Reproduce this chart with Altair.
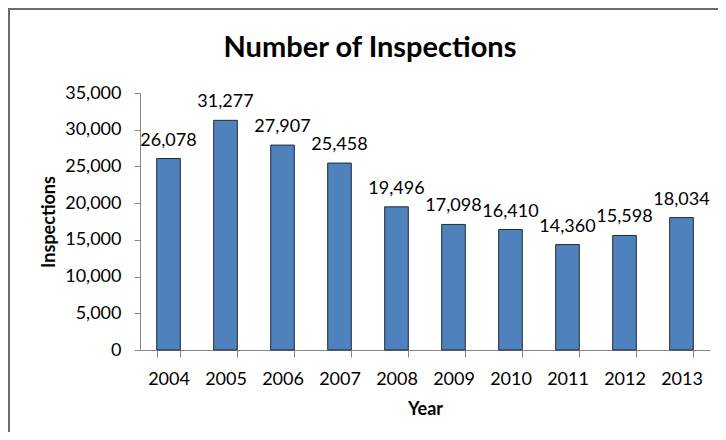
import altair as alt
import pandas as pd

years = ["2004", "2005", "2006", "2007", "2008", "2009", "2010", "2011", "2012", "2013"]
inspections = [26078, 31277, 27907, 25458, 19496, 17098, 16410, 14360, 15598, 18034]
y_ticks = [0, 5000, 10000, 15000, 20000, 25000, 30000, 35000]

df = pd.DataFrame({"Year": years, "Inspections": inspections})

FONT = "Lato"
AXIS_COLOR = "#868686"

base = alt.Chart(df)

x = alt.X(
    "Year:N",
    sort=years,
    title="Year",
    scale=alt.Scale(paddingInner=0.586, paddingOuter=0.293),
    axis=alt.Axis(
        labelAngle=0,
        tickBand="extent",
        tickSize=7,
        labelPadding=13,
        titlePadding=12,
        labelFontSize=18,
        titleFontSize=18,
        labelFont=FONT,
        titleFont=FONT,
        titleFontWeight="bold",
        labelColor="#000000",
        titleColor="#000000",
        domainColor=AXIS_COLOR,
        tickColor=AXIS_COLOR,
        grid=False,
    ),
)

y = alt.Y(
    "Inspections:Q",
    title="Inspections",
    scale=alt.Scale(domain=[0, 35000], nice=False),
    axis=alt.Axis(
        values=y_ticks,
        format=",.0f",
        tickSize=6,
        labelPadding=13,
        titlePadding=6,
        labelFontSize=18,
        titleFontSize=18,
        labelFont=FONT,
        titleFont=FONT,
        titleFontWeight="bold",
        labelColor="#000000",
        titleColor="#000000",
        domainColor=AXIS_COLOR,
        tickColor=AXIS_COLOR,
        grid=False,
    ),
)

bars = base.mark_bar(fill="#4F81BD", stroke="#1d2b3a", strokeWidth=1).encode(x=x, y=y)

labels = base.mark_text(
    baseline="alphabetic", dy=-13, fontSize=18, font=FONT, color="#000000"
).encode(
    x=x,
    y=y,
    text=alt.Text("Inspections:Q", format=",.0f"),
)

frame_df = pd.DataFrame({"k": [0]})
frame_top = alt.Chart(frame_df).mark_rule(color="#6b6b6b", strokeWidth=2).encode(
    x=alt.value(-131), x2=alt.value(580), y=alt.value(-84)
)
frame_left = alt.Chart(frame_df).mark_rule(color="#6b6b6b", strokeWidth=2).encode(
    x=alt.value(-131), y=alt.value(-85), y2=alt.value(345)
)

chart = (
    alt.layer(bars, labels, frame_top, frame_left)
    .properties(
        width=570,
        height=257,
        title=alt.TitleParams(
            "Number of Inspections",
            fontSize=29,
            font=FONT,
            fontWeight="bold",
            color="#000000",
            anchor="middle",
            dx=-55,
            dy=60,
        ),
        autosize=alt.AutoSizeParams(type="none"),
        padding={"left": 132, "top": 85, "right": 8, "bottom": 82},
        background="white",
    )
    .configure_view(stroke=None)
)

chart.save("out.html", embed_options={"renderer": "svg", "actions": False})
